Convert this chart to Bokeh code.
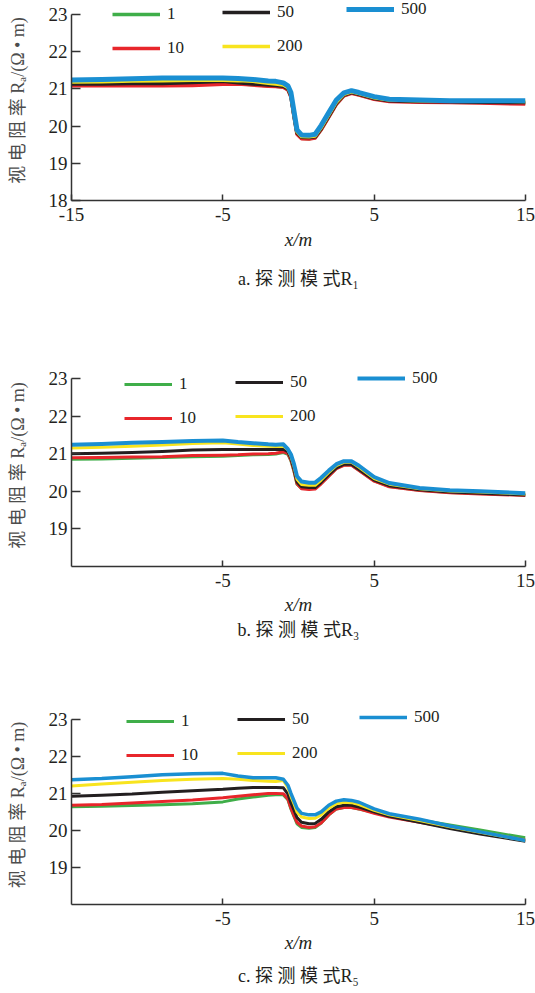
from bokeh.plotting import figure
from bokeh.models import Legend, LegendItem, FixedTicker, Range1d, Title
from bokeh.layouts import column
from bokeh.embed import file_html
from bokeh.resources import INLINE

# ---------------- data ----------------
x_pos = [-15, -13, -11, -9, -7, -5, -4, -3, -2, -1.5, -1, -0.7, -0.5, -0.3, -0.1,
         0.2, 0.7, 1.1, 1.5, 2.0, 2.5, 3.0, 3.5, 4.0, 5.0, 6.0, 8.0, 10.0, 12.0, 15.0]

series_labels = ["1", "10", "50", "200", "500"]
x_ticks_a = [-15, -5, 5, 15]
x_ticks_bc = [-5, 5, 15]
y_ticks_a = [18, 19, 20, 21, 22, 23]
y_ticks_bc = [19, 20, 21, 22, 23]
captions = ["a. 探 测 模 式R₁", "b. 探 测 模 式R₃", "c. 探 测 模 式R₅"]

# panel a (R1)
a_1 = [21.10, 21.10, 21.11, 21.11, 21.12, 21.14, 21.14, 21.11, 21.08, 21.07, 21.05, 20.98, 20.79, 20.27, 19.79,
       19.67, 19.66, 19.69, 19.91, 20.25, 20.59, 20.82, 20.89, 20.84, 20.73, 20.67, 20.65, 20.64, 20.63, 20.61]
a_10 = [21.08, 21.08, 21.08, 21.08, 21.09, 21.12, 21.13, 21.10, 21.07, 21.06, 21.04, 20.97, 20.78, 20.26, 19.78,
        19.66, 19.65, 19.68, 19.90, 20.24, 20.58, 20.81, 20.88, 20.83, 20.72, 20.66, 20.64, 20.63, 20.62, 20.59]
a_50 = [21.13, 21.13, 21.14, 21.14, 21.17, 21.20, 21.16, 21.13, 21.10, 21.09, 21.07, 21.00, 20.82, 20.30, 19.82,
        19.70, 19.69, 19.71, 19.93, 20.27, 20.61, 20.83, 20.90, 20.85, 20.74, 20.68, 20.66, 20.65, 20.64, 20.63]
a_200 = [21.18, 21.19, 21.21, 21.22, 21.23, 21.23, 21.22, 21.20, 21.15, 21.13, 21.10, 21.03, 20.85, 20.33, 19.85,
         19.72, 19.71, 19.73, 19.96, 20.30, 20.64, 20.85, 20.92, 20.87, 20.76, 20.70, 20.68, 20.67, 20.67, 20.66]
a_500 = [21.24, 21.25, 21.27, 21.29, 21.29, 21.29, 21.28, 21.25, 21.21, 21.20, 21.16, 21.08, 20.90, 20.40, 19.90,
         19.76, 19.75, 19.78, 20.02, 20.36, 20.70, 20.89, 20.95, 20.90, 20.79, 20.72, 20.70, 20.68, 20.68, 20.68]

# panel b (R3)
b_1 = [20.85, 20.86, 20.88, 20.90, 20.92, 20.93, 20.95, 20.97, 20.98, 20.99, 21.03, 20.98, 20.81, 20.53, 20.19,
       20.08, 20.07, 20.08, 20.21, 20.41, 20.61, 20.70, 20.70, 20.56, 20.28, 20.13, 20.03, 19.97, 19.94, 19.90]
b_10 = [20.89, 20.90, 20.91, 20.92, 20.95, 20.96, 20.97, 20.99, 21.00, 21.01, 21.05, 21.00, 20.83, 20.55, 20.20,
        20.07, 20.05, 20.06, 20.20, 20.40, 20.60, 20.69, 20.69, 20.55, 20.27, 20.12, 20.02, 19.96, 19.93, 19.89]
b_50 = [21.00, 21.01, 21.03, 21.06, 21.10, 21.11, 21.11, 21.11, 21.11, 21.11, 21.12, 21.05, 20.88, 20.60, 20.25,
        20.12, 20.10, 20.10, 20.24, 20.44, 20.62, 20.72, 20.72, 20.58, 20.30, 20.15, 20.04, 19.98, 19.95, 19.90]
b_200 = [21.15, 21.17, 21.20, 21.23, 21.27, 21.29, 21.26, 21.22, 21.20, 21.19, 21.20, 21.10, 20.93, 20.67, 20.32,
         20.18, 20.16, 20.16, 20.30, 20.50, 20.68, 20.77, 20.77, 20.64, 20.34, 20.19, 20.07, 20.01, 19.98, 19.93]
b_500 = [21.24, 21.26, 21.29, 21.31, 21.34, 21.35, 21.31, 21.28, 21.25, 21.24, 21.25, 21.12, 20.98, 20.73, 20.40,
         20.26, 20.23, 20.23, 20.36, 20.55, 20.72, 20.80, 20.80, 20.68, 20.38, 20.22, 20.09, 20.03, 20.00, 19.95]

# panel c (R5)
c_1 = [20.64, 20.65, 20.67, 20.69, 20.72, 20.77, 20.85, 20.90, 20.95, 20.96, 20.96, 20.83, 20.58, 20.38, 20.18,
       20.08, 20.06, 20.08, 20.20, 20.42, 20.58, 20.62, 20.62, 20.58, 20.48, 20.40, 20.28, 20.15, 20.01, 19.80]
c_10 = [20.68, 20.70, 20.74, 20.78, 20.82, 20.88, 20.92, 20.96, 21.00, 21.00, 20.99, 20.85, 20.60, 20.40, 20.22,
        20.12, 20.08, 20.10, 20.20, 20.42, 20.58, 20.62, 20.62, 20.58, 20.46, 20.36, 20.22, 20.08, 19.94, 19.74]
c_50 = [20.92, 20.95, 20.98, 21.03, 21.07, 21.11, 21.14, 21.16, 21.16, 21.16, 21.15, 20.98, 20.75, 20.55, 20.35,
        20.22, 20.18, 20.19, 20.30, 20.50, 20.64, 20.68, 20.68, 20.63, 20.50, 20.38, 20.22, 20.05, 19.90, 19.71]
c_200 = [21.20, 21.25, 21.30, 21.35, 21.38, 21.40, 21.38, 21.35, 21.33, 21.32, 21.35, 21.15, 20.92, 20.72, 20.50,
         20.36, 20.32, 20.33, 20.42, 20.60, 20.72, 20.76, 20.75, 20.70, 20.54, 20.42, 20.27, 20.10, 19.95, 19.73]
c_500 = [21.37, 21.40, 21.45, 21.50, 21.53, 21.54, 21.47, 21.42, 21.42, 21.42, 21.38, 21.22, 21.00, 20.80, 20.60,
         20.46, 20.42, 20.42, 20.50, 20.68, 20.79, 20.83, 20.81, 20.76, 20.58, 20.45, 20.30, 20.12, 19.96, 19.73]

# ---------------- style ----------------
COLORS = ["#3fae49", "#e8262b", "#231f20", "#f8e41e", "#1a8fd2"]
FONT = "'Liberation Serif', 'Noto Sans CJK SC'"
AXIS_COLOR = "#333333"
FRAME_H = 202            # 188 px for 18..23 plus 14 px headroom for the legend
Y_TOP = 23 + 14 / 37.6


def make_panel(ys, widths, x_ticks, y_ticks, top, bottom, caption,
               leg_pos, xlab_standoff, cap_standoff):
    p = figure(width=535, height=top + FRAME_H + bottom,
               x_range=Range1d(-15, 15), y_range=Range1d(18, Y_TOP),
               output_backend="svg", toolbar_location=None, title=None,
               min_border_left=71, min_border_right=10,
               min_border_top=top, min_border_bottom=bottom)
    p.outline_line_color = None
    p.xgrid.visible = False
    p.ygrid.visible = False

    rends = []
    for yv, col, w in zip(ys, COLORS, widths):
        rends.append(p.line(x_pos, yv, line_color=col, line_width=w, line_join="round"))

    for ax in (p.xaxis[0], p.yaxis[0]):
        ax.axis_line_color = AXIS_COLOR
        ax.axis_line_width = 1.5
        ax.major_tick_line_color = AXIS_COLOR
        ax.major_tick_line_width = 1.5
        ax.major_tick_out = 0
        ax.minor_tick_line_color = None
        ax.major_label_text_font = FONT
        ax.major_label_text_font_size = "19px"
        ax.major_label_text_color = "#231f20"
    p.xaxis.major_tick_in = 6
    p.yaxis.major_tick_in = 9
    p.yaxis.bounds = (18, 23)
    p.xaxis.ticker = FixedTicker(ticks=x_ticks)
    p.yaxis.ticker = FixedTicker(ticks=y_ticks)
    p.xaxis.major_label_overrides = {t: str(t) for t in x_ticks}
    p.xaxis.major_label_standoff = 7
    p.yaxis.major_label_standoff = 4

    p.yaxis.axis_label = "视 电 阻 率 Rₐ/(Ω • m)"
    p.yaxis.axis_label_text_font = FONT
    p.yaxis.axis_label_text_font_style = "normal"
    p.yaxis.axis_label_text_font_size = "18px"
    p.yaxis.axis_label_text_color = "#4d4d4d"
    p.yaxis.axis_label_standoff = 18

    p.xaxis.axis_label = "x/m"
    p.xaxis.axis_label_text_font = FONT
    p.xaxis.axis_label_text_font_style = "italic"
    p.xaxis.axis_label_text_font_size = "19px"
    p.xaxis.axis_label_text_color = "#231f20"
    p.xaxis.axis_label_standoff = xlab_standoff

    # legends (three column groups)
    groups = [[0, 1], [2, 3], [4]]
    for g, pos in zip(groups, leg_pos):
        items = [LegendItem(label=series_labels[i], renderers=[rends[i]]) for i in g]
        leg = Legend(items=items, location=pos, orientation="vertical",
                     padding=0, margin=0, spacing=14, glyph_width=48, glyph_height=20,
                     label_height=20, label_standoff=7,
                     background_fill_alpha=0, border_line_alpha=0,
                     label_text_font=FONT, label_text_font_size="17px",
                     label_text_font_style="normal",
                     label_text_color="#231f20")
        p.add_layout(leg)

    cap = Title(text=caption, align="center", offset=-7, standoff=cap_standoff,
                text_font=FONT, text_font_size="18px", text_font_style="normal",
                text_color="#231f20")
    p.add_layout(cap, "below")
    return p


pa = make_panel([a_1, a_10, a_50, a_200, a_500], [3.5, 3.5, 3.5, 3.5, 5],
                x_ticks_a, y_ticks_a, 0, 100, captions[0],
                [(41, 142), (151, 144), (275, 181)], 5, 28)
pb = make_panel([b_1, b_10, b_50, b_200, b_500], [3, 3, 3, 3, 4],
                x_ticks_bc, y_ticks_bc, 62, 80, captions[1],
                [(53, 138), (164, 140), (286, 178)], 4, 0)
pc = make_panel([c_1, c_10, c_50, c_200, c_500], [3, 3, 3, 3, 3.5],
                x_ticks_bc, y_ticks_bc, 59, 86, captions[2],
                [(55, 139), (166, 141), (288, 177)], 4, 16)

layout = column(pa, pb, pc, spacing=0)
open("out.html", "w").write(file_html(layout, INLINE))
